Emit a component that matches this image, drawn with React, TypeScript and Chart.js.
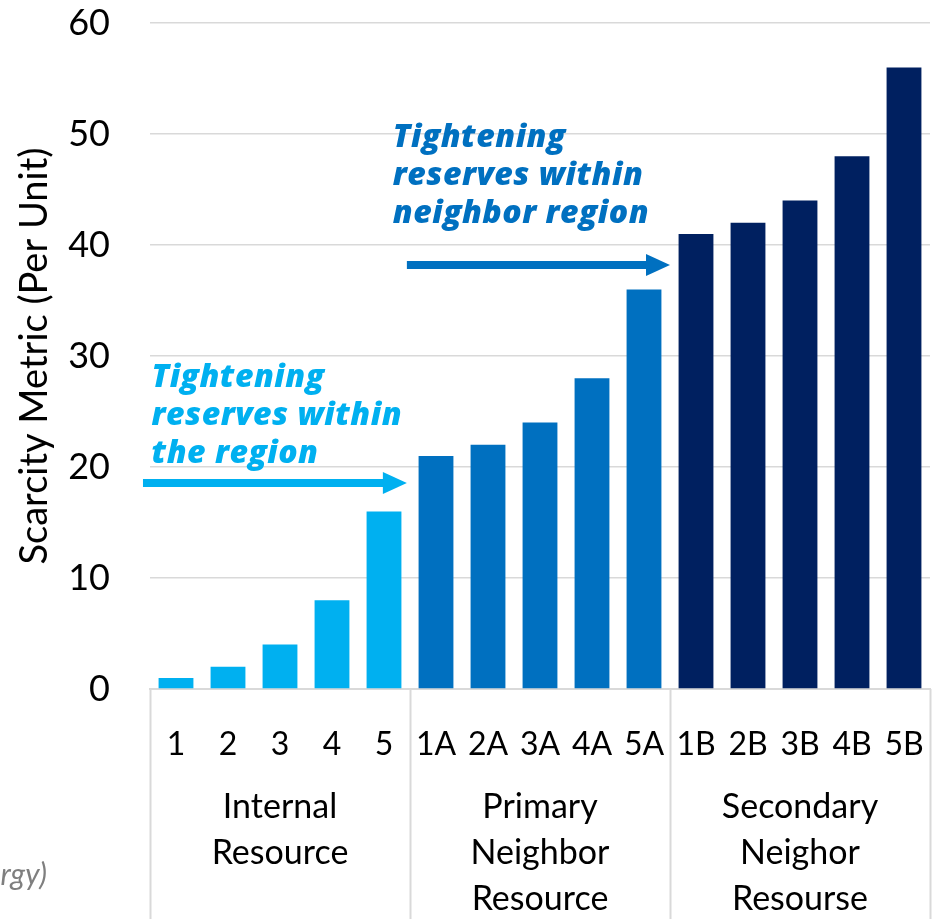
import React, { useEffect, useRef } from 'react';
import { Chart, registerables } from 'chart.js';

Chart.register(...registerables);

// ---------- data ----------
const categories = ['1', '2', '3', '4', '5', '1A', '2A', '3A', '4A', '5A', '1B', '2B', '3B', '4B', '5B'];
const scarcityValues = [1, 2, 4, 8, 16, 21, 22, 24, 28, 36, 41, 42, 44, 48, 56];
const groupLabels = [
  ['Internal', 'Resource'],
  ['Primary', 'Neighbor', 'Resource'],
  ['Secondary', 'Neighor', 'Resourse'],
];
const groupSizes = [5, 5, 5];
const yTicks = [0, 10, 20, 30, 40, 50, 60];
const yAxisTitle = 'Scarcity Metric (Per Unit)';
const note1Lines = ['Tightening', 'reserves within', 'the region'];
const note2Lines = ['Tightening', 'reserves within', 'neighbor region'];
const sourceFragment = 'rgy)';

// ---------- annotation anchors (data units: category index, y value) ----------
const arrow1 = { from: -0.635, to: 4.44, y: 18.56 };
const arrow2 = { from: 4.44, to: 9.5, y: 38.2 };
const note1Anchor = { x: -0.47, y: 27.2 };
const note2Anchor = { x: 4.17, y: 48.8 };

// ---------- styles ----------
const GROUP_COLORS = ['#00B0F0', '#0070C0', '#002060'];
const GRID = '#d9d9d9';
const FONT = 'Lato';
const NOTE_FONT = 'italic 800 32px "Open Sans"';
const NOTE_LINE = 38;

const barGroupIndex: number[] = [];
groupSizes.forEach((n, g) => {
  for (let i = 0; i < n; i++) barGroupIndex.push(g);
});
const barColors = barGroupIndex.map((g) => GROUP_COLORS[g]);

function drawArrow(ctx: CanvasRenderingContext2D, x1: number, x2: number, y: number, color: string) {
  const head = 24;
  const halfH = 11;
  ctx.save();
  ctx.strokeStyle = color;
  ctx.fillStyle = color;
  ctx.lineWidth = 8;
  ctx.beginPath();
  ctx.moveTo(x1, y);
  ctx.lineTo(x2 - head + 2, y);
  ctx.stroke();
  ctx.beginPath();
  ctx.moveTo(x2, y);
  ctx.lineTo(x2 - head, y - halfH);
  ctx.lineTo(x2 - head, y + halfH);
  ctx.closePath();
  ctx.fill();
  ctx.restore();
}

const overlayPlugin = {
  id: 'overlay',
  afterDraw(chart: any) {
    const { ctx, chartArea, scales } = chart;
    const x = scales.x;
    const y = scales.y;
    const half = (x.getPixelForValue(1) - x.getPixelForValue(0)) / 2;
    const bottom = chart.height;

    // group separators
    ctx.save();
    ctx.strokeStyle = GRID;
    ctx.lineWidth = 2;
    let idx = 0;
    const bounds = [0];
    groupSizes.forEach((n) => {
      idx += n;
      bounds.push(idx);
    });
    bounds.forEach((b) => {
      const px = Math.round(x.getPixelForValue(b) - half) + 0.5;
      ctx.beginPath();
      ctx.moveTo(px, chartArea.bottom);
      ctx.lineTo(px, bottom);
      ctx.stroke();
    });

    // group labels
    ctx.fillStyle = '#000';
    ctx.font = `34px ${FONT}`;
    ctx.textAlign = 'center';
    ctx.textBaseline = 'alphabetic';
    let start = 0;
    groupSizes.forEach((n, g) => {
      const cx = (x.getPixelForValue(start) + x.getPixelForValue(start + n - 1)) / 2;
      groupLabels[g].forEach((line, i) => {
        ctx.fillText(line, cx, chartArea.bottom + 129 + i * 46);
      });
      start += n;
    });

    // arrows
    drawArrow(ctx, x.getPixelForValue(arrow1.from), x.getPixelForValue(arrow1.to), y.getPixelForValue(arrow1.y), GROUP_COLORS[0]);
    drawArrow(ctx, x.getPixelForValue(arrow2.from), x.getPixelForValue(arrow2.to), y.getPixelForValue(arrow2.y), GROUP_COLORS[1]);

    // notes
    ctx.font = NOTE_FONT;
    ctx.textAlign = 'left';
    try {
      (ctx as any).letterSpacing = '0.5px';
    } catch (e) {}
    ctx.fillStyle = GROUP_COLORS[0];
    note1Lines.forEach((line, i) => {
      ctx.fillText(line, x.getPixelForValue(note1Anchor.x), y.getPixelForValue(note1Anchor.y) + i * NOTE_LINE);
    });
    ctx.fillStyle = GROUP_COLORS[1];
    note2Lines.forEach((line, i) => {
      ctx.fillText(line, x.getPixelForValue(note2Anchor.x), y.getPixelForValue(note2Anchor.y) + i * NOTE_LINE);
    });
    try {
      (ctx as any).letterSpacing = '0px';
    } catch (e) {}

    // cut-off source fragment
    ctx.font = `italic 30px ${FONT}`;
    ctx.fillStyle = '#7f7f7f';
    ctx.textAlign = 'right';
    ctx.fillText(sourceFragment, 47, 885);
    ctx.restore();
  },
};

export default function App() {
  const ref = useRef<HTMLCanvasElement>(null);

  useEffect(() => {
    const chart = new Chart(ref.current as HTMLCanvasElement, {
      type: 'bar',
      data: {
        labels: categories,
        datasets: [
          {
            data: scarcityValues,
            backgroundColor: barColors,
            borderWidth: 0,
            barPercentage: 0.67,
            categoryPercentage: 1,
          },
        ],
      },
      options: {
        animation: false,
        responsive: true,
        maintainAspectRatio: false,
        layout: { padding: { top: 23, right: 2, left: 0, bottom: 0 } },
        plugins: {
          legend: { display: false },
          tooltip: { enabled: false },
        },
        scales: {
          x: {
            grid: { display: false },
            border: { display: true, color: GRID, width: 2 },
            ticks: { color: '#000', font: { family: FONT, size: 32 }, padding: 28, maxRotation: 0, autoSkip: false },
            afterFit: (s: any) => {
              s.height = 230;
              s.paddingLeft = 0;
              s.paddingRight = 0;
            },
          },
          y: {
            min: yTicks[0],
            max: yTicks[yTicks.length - 1],
            grid: { color: GRID, lineWidth: 1.5, drawTicks: false },
            border: { display: false },
            ticks: { stepSize: yTicks[1] - yTicks[0], color: '#000', font: { family: FONT, size: 36 }, padding: 40 },
            title: {
              display: true,
              text: yAxisTitle,
              color: '#000',
              font: { family: FONT, size: 38, weight: 'normal' },
              padding: { top: 12, bottom: 0 },
            },
            afterFit: (s: any) => {
              s.width = 150;
              s.paddingTop = 0;
              s.paddingBottom = 0;
            },
          },
        },
      },
      plugins: [overlayPlugin],
    } as any);
    return () => chart.destroy();
  }, []);

  return (
    <div style={{ position: 'absolute', left: 0, top: 0, width: 932, height: 919, background: '#fff' }}>
      <canvas ref={ref} />
    </div>
  );
}
